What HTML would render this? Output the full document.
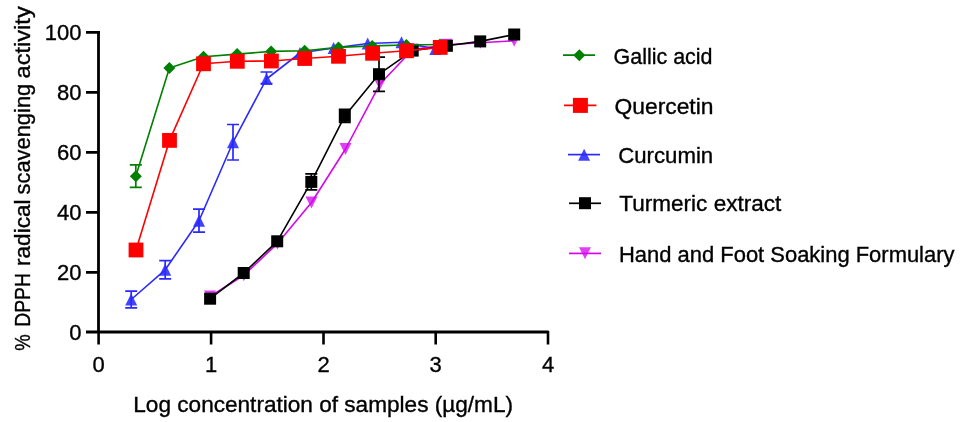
<!DOCTYPE html>
<html><head><meta charset="utf-8"><style>
html,body{margin:0;padding:0;background:#fff;width:960px;height:422px;overflow:hidden}
svg{position:absolute;left:0;top:0;display:block;will-change:transform}
</style></head><body>
<svg width="960" height="422" viewBox="0 0 960 422">
<path d="M98.5,31V333.3M86,32.4H100M86,92.4H98.5M86,152.4H98.5M86,212.4H98.5M86,272.4H98.5M86,332H548.6" stroke="#000" stroke-width="2.8" fill="none"/>
<path d="M98.6,331V344.6M211.1,331V344.6M323.5,331V344.6M435.7,331V344.6M548,331V344.6" stroke="#000" stroke-width="2.6" fill="none"/>
<path d="M131.2,293.5L137.2,305.5L125.2,305.5Z" fill="#4444ff"/><path d="M165.2,263.8L171.2,275.8L159.2,275.8Z" fill="#4444ff"/><path d="M199,214.7L205,226.7L193,226.7Z" fill="#4444ff"/><path d="M233,136.2L239,148.2L227,148.2Z" fill="#4444ff"/><path d="M266.5,73L272.5,85L260.5,85Z" fill="#4444ff"/><path d="M300,47L306,59L294,59Z" fill="#4444ff"/><path d="M333.6,42L339.6,54L327.6,54Z" fill="#4444ff"/><path d="M367.7,37.5L373.7,49.5L361.7,49.5Z" fill="#4444ff"/><path d="M401.5,36.2L407.5,48.2L395.5,48.2Z" fill="#4444ff"/><path d="M435.3,42.9L441.3,54.9L429.3,54.9Z" fill="#4444ff"/><polyline points="131.2,299.5 165.2,269.8 199,220.7 233,142.2 266.5,79 300,53 333.6,48 367.7,43.5 401.5,42.2 435.3,48.9" fill="none" stroke="#2a2aff" stroke-width="1.6" stroke-linejoin="round"/><path d="M131.2,291.2V307.8M125.2,291.2H137.2M125.2,307.8H137.2" stroke="#2a2aff" stroke-width="1.7" fill="none"/><path d="M165.2,260.6V278.9M159.2,260.6H171.2M159.2,278.9H171.2" stroke="#2a2aff" stroke-width="1.7" fill="none"/><path d="M199,209.2V232.2M193,209.2H205M193,232.2H205" stroke="#2a2aff" stroke-width="1.7" fill="none"/><path d="M233,124.5V160M227,124.5H239M227,160H239" stroke="#2a2aff" stroke-width="1.7" fill="none"/><path d="M266.5,72V83.5M260.5,72H272.5M260.5,83.5H272.5" stroke="#2a2aff" stroke-width="1.7" fill="none"/>
<path d="M204,290.5L216,290.5L210,302.5Z" fill="#e040f4"/><path d="M237.8,269.3L249.8,269.3L243.8,281.3Z" fill="#e040f4"/><path d="M271.5,237.4L283.5,237.4L277.5,249.4Z" fill="#e040f4"/><path d="M305.5,196.5L317.5,196.5L311.5,208.5Z" fill="#e040f4"/><path d="M339.5,143L351.5,143L345.5,155Z" fill="#e040f4"/><path d="M373.8,78.3L385.8,78.3L379.8,90.3Z" fill="#e040f4"/><path d="M406.7,43.5L418.7,43.5L412.7,55.5Z" fill="#e040f4"/><path d="M440.7,38.8L452.7,38.8L446.7,50.8Z" fill="#e040f4"/><path d="M474.4,36.8L486.4,36.8L480.4,48.8Z" fill="#e040f4"/><path d="M508.2,34.7L520.2,34.7L514.2,46.7Z" fill="#e040f4"/><polyline points="210,296.5 243.8,275.3 277.5,243.4 311.5,202.5 345.5,149 379.8,84.3 412.7,49.5 446.7,44.8 480.4,42.8 514.2,40.7" fill="none" stroke="#d606ec" stroke-width="1.6" stroke-linejoin="round"/>
<rect x="204.1" y="292.7" width="12" height="12" fill="#000000"/><rect x="237.7" y="267" width="12" height="12" fill="#000000"/><rect x="271.2" y="235.3" width="12" height="12" fill="#000000"/><rect x="305.3" y="175.9" width="12" height="12" fill="#000000"/><rect x="338.8" y="109.9" width="12" height="12" fill="#000000"/><rect x="373" y="68.2" width="12" height="12" fill="#000000"/><rect x="406.7" y="44.6" width="12" height="12" fill="#000000"/><rect x="440.9" y="39.8" width="12" height="12" fill="#000000"/><rect x="474.2" y="35.4" width="12" height="12" fill="#000000"/><rect x="508.2" y="28.5" width="12" height="12" fill="#000000"/><polyline points="210.1,298.7 243.7,273 277.2,241.3 311.3,181.9 344.8,115.9 379,74.2 412.7,50.6 446.9,45.8 480.2,41.4 514.2,34.5" fill="none" stroke="#000000" stroke-width="1.6" stroke-linejoin="round"/><path d="M311.3,173.9V189.9M305.3,173.9H317.3M305.3,189.9H317.3" stroke="#000000" stroke-width="1.7" fill="none"/><path d="M344.8,109.3V122.5M338.8,109.3H350.8M338.8,122.5H350.8" stroke="#000000" stroke-width="1.7" fill="none"/><path d="M379,57.1V91.4M373,57.1H385M373,91.4H385" stroke="#000000" stroke-width="1.7" fill="none"/>
<path d="M135.8,170.3L141.8,176.3L135.8,182.3L129.8,176.3Z" fill="#008000"/><path d="M169.4,62.0L175.4,68.0L169.4,74.0L163.4,68.0Z" fill="#008000"/><path d="M203.5,50.7L209.5,56.7L203.5,62.7L197.5,56.7Z" fill="#008000"/><path d="M237.1,48.1L243.1,54.1L237.1,60.1L231.1,54.1Z" fill="#008000"/><path d="M271.1,45.4L277.1,51.4L271.1,57.4L265.1,51.4Z" fill="#008000"/><path d="M304.7,44.8L310.7,50.8L304.7,56.8L298.7,50.8Z" fill="#008000"/><path d="M338.5,41.4L344.5,47.4L338.5,53.4L332.5,47.4Z" fill="#008000"/><path d="M372.2,39.9L378.2,45.9L372.2,51.9L366.2,45.9Z" fill="#008000"/><path d="M406.4,39.0L412.4,45.0L406.4,51.0L400.4,45.0Z" fill="#008000"/><path d="M440.0,38.5L446.0,44.5L440.0,50.5L434.0,44.5Z" fill="#008000"/><polyline points="135.8,176.3 169.4,68 203.5,56.7 237.1,54.1 271.1,51.4 304.7,50.8 338.5,47.4 372.2,45.9 406.4,45 440,44.5" fill="none" stroke="#008000" stroke-width="1.6" stroke-linejoin="round"/><path d="M135.8,164.8V187.3M129.8,164.8H141.8M129.8,187.3H141.8" stroke="#008000" stroke-width="1.7" fill="none"/>
<rect x="128.6" y="242.6" width="14.8" height="14.8" fill="#ff0000"/><rect x="162.1" y="133.0" width="14.8" height="14.8" fill="#ff0000"/><rect x="196.1" y="56.4" width="14.8" height="14.8" fill="#ff0000"/><rect x="229.9" y="53.9" width="14.8" height="14.8" fill="#ff0000"/><rect x="264.0" y="53.6" width="14.8" height="14.8" fill="#ff0000"/><rect x="297.3" y="51.1" width="14.8" height="14.8" fill="#ff0000"/><rect x="331.1" y="48.9" width="14.8" height="14.8" fill="#ff0000"/><rect x="365.2" y="45.9" width="14.8" height="14.8" fill="#ff0000"/><rect x="399.1" y="43.4" width="14.8" height="14.8" fill="#ff0000"/><rect x="432.8" y="40.0" width="14.8" height="14.8" fill="#ff0000"/><polyline points="136,250 169.5,140.4 203.5,63.8 237.3,61.3 271.4,61 304.7,58.5 338.5,56.3 372.6,53.3 406.5,50.8 440.2,47.4" fill="none" stroke="#ff0000" stroke-width="1.6" stroke-linejoin="round"/>
<path d="M579.3,49.2L585.3,55.2L579.3,61.2L573.3,55.2Z" fill="#008000"/><path d="M563,55.1H595.1" stroke="#008000" stroke-width="1.7"/>
<rect x="572.9" y="97.9" width="15.0" height="15.0" fill="#ff0000"/><path d="M564,105.4H596.4" stroke="#ff0000" stroke-width="1.7"/>
<path d="M584.1,148.8L590.1,160.8L578.1,160.8Z" fill="#4444ff"/><path d="M568,154.6H600" stroke="#2a2aff" stroke-width="1.7"/>
<rect x="579" y="197.2" width="12" height="12" fill="#000000"/><path d="M569,203.3H601" stroke="#000000" stroke-width="1.7"/>
<path d="M579,247.2L591,247.2L585,259.2Z" fill="#e040f4"/><path d="M569,253.4H601" stroke="#d606ec" stroke-width="1.7"/>
<text x="81.5" y="40.0" font-family="'Liberation Sans', sans-serif" stroke="#000" stroke-width="0.35" font-size="22" text-anchor="end" >100</text>
<text x="81.5" y="100.0" font-family="'Liberation Sans', sans-serif" stroke="#000" stroke-width="0.35" font-size="22" text-anchor="end" >80</text>
<text x="81.5" y="160.0" font-family="'Liberation Sans', sans-serif" stroke="#000" stroke-width="0.35" font-size="22" text-anchor="end" >60</text>
<text x="81.5" y="220.0" font-family="'Liberation Sans', sans-serif" stroke="#000" stroke-width="0.35" font-size="22" text-anchor="end" >40</text>
<text x="81.5" y="280.0" font-family="'Liberation Sans', sans-serif" stroke="#000" stroke-width="0.35" font-size="22" text-anchor="end" >20</text>
<text x="81.5" y="340.0" font-family="'Liberation Sans', sans-serif" stroke="#000" stroke-width="0.35" font-size="22" text-anchor="end" >0</text>
<text x="98.6" y="372.3" font-family="'Liberation Sans', sans-serif" stroke="#000" stroke-width="0.35" font-size="22" text-anchor="middle" >0</text>
<text x="211.1" y="372.3" font-family="'Liberation Sans', sans-serif" stroke="#000" stroke-width="0.35" font-size="22" text-anchor="middle" >1</text>
<text x="323.5" y="372.3" font-family="'Liberation Sans', sans-serif" stroke="#000" stroke-width="0.35" font-size="22" text-anchor="middle" >2</text>
<text x="435.7" y="372.3" font-family="'Liberation Sans', sans-serif" stroke="#000" stroke-width="0.35" font-size="22" text-anchor="middle" >3</text>
<text x="548" y="372.3" font-family="'Liberation Sans', sans-serif" stroke="#000" stroke-width="0.35" font-size="22" text-anchor="middle" >4</text>
<text x="133.3" y="412.3" font-family="'Liberation Sans', sans-serif" stroke="#000" stroke-width="0.35" font-size="22" text-anchor="start" textLength="379.7" lengthAdjust="spacingAndGlyphs">Log concentration of samples (µg/mL)</text>
<text transform="translate(29.7,350.8) rotate(-90)" font-family="'Liberation Sans', sans-serif" stroke="#000" stroke-width="0.35" font-size="22" textLength="16.43" lengthAdjust="spacingAndGlyphs">%</text>
<text transform="translate(29.7,326.8) rotate(-90)" font-family="'Liberation Sans', sans-serif" stroke="#000" stroke-width="0.35" font-size="22" textLength="53.67" lengthAdjust="spacingAndGlyphs">DPPH</text>
<text transform="translate(29.7,266.0) rotate(-90)" font-family="'Liberation Sans', sans-serif" stroke="#000" stroke-width="0.35" font-size="22" textLength="66.56" lengthAdjust="spacingAndGlyphs">radical</text>
<text transform="translate(29.7,194.4) rotate(-90)" font-family="'Liberation Sans', sans-serif" stroke="#000" stroke-width="0.35" font-size="22" textLength="110.62" lengthAdjust="spacingAndGlyphs">scavenging</text>
<text transform="translate(29.7,78.4) rotate(-90)" font-family="'Liberation Sans', sans-serif" stroke="#000" stroke-width="0.35" font-size="22" textLength="72.13" lengthAdjust="spacingAndGlyphs">activity</text>
<text x="613.5" y="63.5" font-family="'Liberation Sans', sans-serif" stroke="#000" stroke-width="0.35" font-size="22" text-anchor="start" textLength="99" lengthAdjust="spacingAndGlyphs">Gallic acid</text>
<text x="614.5" y="113.5" font-family="'Liberation Sans', sans-serif" stroke="#000" stroke-width="0.35" font-size="22" text-anchor="start" textLength="99" lengthAdjust="spacingAndGlyphs">Quercetin</text>
<text x="618.2" y="163.1" font-family="'Liberation Sans', sans-serif" stroke="#000" stroke-width="0.35" font-size="22" text-anchor="start" textLength="95" lengthAdjust="spacingAndGlyphs">Curcumin</text>
<text x="619.3" y="211.4" font-family="'Liberation Sans', sans-serif" stroke="#000" stroke-width="0.35" font-size="22" text-anchor="start" textLength="162" lengthAdjust="spacingAndGlyphs">Turmeric extract</text>
<text x="619" y="261.8" font-family="'Liberation Sans', sans-serif" stroke="#000" stroke-width="0.35" font-size="22" text-anchor="start" textLength="335.5" lengthAdjust="spacingAndGlyphs">Hand and Foot Soaking Formulary</text>
</svg>
</body></html>
